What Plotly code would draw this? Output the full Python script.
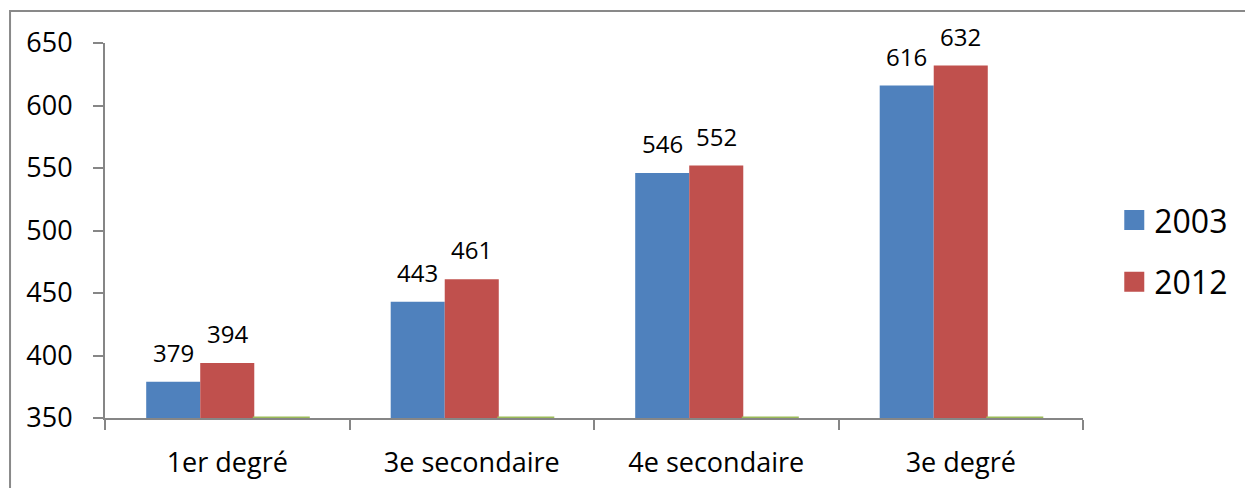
import plotly.graph_objects as go

# Categories and series values
categories = ["1er degré", "3e secondaire", "4e secondaire", "3e degré"]
values_2003 = [379, 443, 546, 616]
values_2012 = [394, 461, 552, 632]
values_s3 = [350, 350, 350, 350]
y_ticks = [350, 400, 450, 500, 550, 600, 650]

FONT = "Open Sans"
AXIS_GREY = "#868686"
BLUE, RED, GREEN = "#4F81BD", "#C0504D", "#9BBB59"
BARGAP = 0.337
N_SERIES = 3

fig = go.Figure()

fig.add_trace(go.Bar(x=categories, y=values_2003, name="2003", showlegend=False,
                     marker=dict(color=BLUE, line=dict(width=0))))
fig.add_trace(go.Bar(x=categories, y=values_2012, name="2012", showlegend=False,
                     marker=dict(color=RED, line=dict(width=0))))
fig.add_trace(go.Bar(x=categories, y=values_s3, name="Série 3", showlegend=False,
                     marker=dict(color=GREEN, line=dict(width=3, color=GREEN))))

# legend keys (square swatches)
for name, color, grp in [("2003", BLUE, "a"), ("2012", RED, "b")]:
    fig.add_trace(go.Scatter(
        x=[None], y=[None], mode="markers", name=name, legendgroup=grp,
        marker=dict(symbol="square", size=16, color=color, line=dict(width=4, color=color)),
    ))

# value labels above each bar, centred on the bar within its group
bar_w = (1 - BARGAP) / N_SERIES
offsets = [-bar_w, 0.0]
annotations = []
for off, vals in zip(offsets, [values_2003, values_2012]):
    for i, v in enumerate(vals):
        annotations.append(dict(
            x=i + off, y=v, xref="x", yref="y", text=str(v), showarrow=False,
            xanchor="center", yanchor="bottom", yshift=11,
            font=dict(family=FONT, size=24, color="black"),
        ))

fig.update_layout(
    width=1245, height=488,
    margin=dict(l=105, r=162, t=43, b=70),
    paper_bgcolor="white", plot_bgcolor="white",
    barmode="group", bargap=BARGAP, bargroupgap=0,
    font=dict(family=FONT, size=27, color="black"),
    annotations=annotations,
    legend=dict(
        xref="container", yref="container", x=0.895, y=0.485,
        xanchor="left", yanchor="middle",
        font=dict(family=FONT, size=32, color="black"),
        traceorder="grouped", tracegroupgap=17, itemsizing="trace",
        bgcolor="rgba(0,0,0,0)",
    ),
    xaxis=dict(
        type="category", automargin=False, showgrid=False,
        showline=True, linecolor=AXIS_GREY, linewidth=2,
        ticks="outside", tickson="boundaries", ticklen=10, tickwidth=2, tickcolor=AXIS_GREY,
        ticklabelstandoff=20,
        tickfont=dict(family=FONT, size=27, color="black"),
    ),
    yaxis=dict(
        range=[350, 650], tickvals=y_ticks, automargin=False, showgrid=False, zeroline=False,
        showline=True, linecolor=AXIS_GREY, linewidth=2,
        ticks="outside", ticklen=10, tickwidth=2, tickcolor=AXIS_GREY,
        ticklabelstandoff=15,
        tickfont=dict(family=FONT, size=27, color="black"),
    ),
    shapes=[dict(
        type="rect", xref="paper", yref="paper",
        x0=-0.0971, x1=1.2, y0=-0.25, y1=1.0853,
        line=dict(color="#898989", width=2), fillcolor="rgba(0,0,0,0)", layer="below",
    )],
)

fig.write_html("out.html")
